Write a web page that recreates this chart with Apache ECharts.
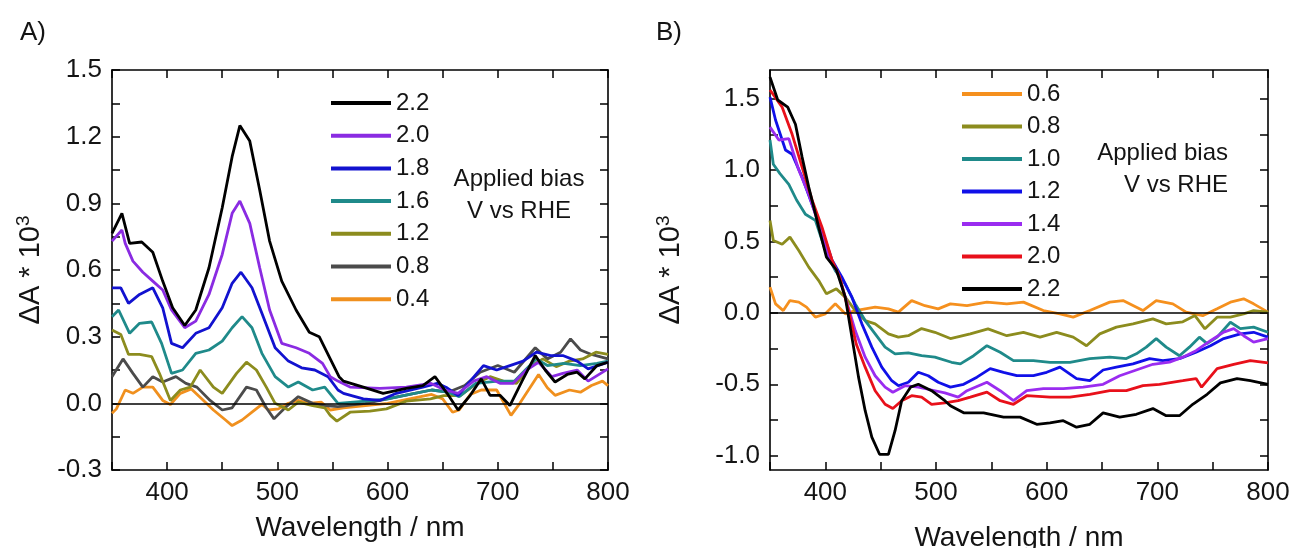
<!DOCTYPE html>
<html><head><meta charset="utf-8">
<script src="https://cdn.jsdelivr.net/npm/echarts@6/dist/echarts.min.js"></script>
<style>html,body{margin:0;padding:0;background:#fff}#c{width:1295px;height:548px}</style>
</head><body><div id="c"></div>
<script>
// ---------- Panel A data (wavelength nm, ΔA*10^3) ----------
const waveA22 = [350,359,366,377,387,396,405,416,426,438,450,459,466,475,484,493,504,517,529,538,548,556,560,578,596,617,632,643,654,664,675,685,693,702,711,722,734,743,752,763,772,779,790,800];
const valA22  = [.765,.855,.72,.726,.68,.55,.43,.35,.42,.61,.88,1.11,1.25,1.18,.96,.73,.55,.42,.32,.30,.20,.12,.10,.073,.045,.067,.08,.12,.045,-.03,.036,.11,.036,.036,-.01,.10,.215,.15,.096,.13,.14,.11,.17,.185];
const waveA20 = [350,359,362,369,378,387,396,404,416,426,438,450,459,466,475,484,493,504,517,529,541,548,555,566,593,617,639,652,664,678,690,702,714,726,737,749,759,772,782,800];
const valA20  = [.73,.78,.72,.64,.59,.55,.51,.42,.34,.37,.49,.67,.855,.91,.81,.61,.42,.27,.25,.225,.18,.12,.10,.073,.067,.073,.09,.06,.045,.10,.12,.09,.09,.15,.185,.12,.135,.15,.10,.155];
const waveA18 = [350,358,365,375,387,396,404,414,426,438,450,459,467,477,486,498,510,522,534,546,555,560,578,593,608,632,645,654,664,675,687,699,711,723,735,748,759,772,782,800];
const valA18  = [.52,.52,.45,.49,.52,.43,.27,.25,.315,.34,.43,.54,.59,.52,.405,.25,.19,.16,.15,.12,.06,.045,.02,.013,.045,.073,.09,.07,.035,.10,.17,.15,.17,.19,.23,.215,.215,.19,.155,.185];
const waveA16 = [350,356,366,375,386,395,404,414,426,438,450,459,468,477,486,498,510,519,532,543,555,580,600,620,640,655,665,680,700,715,725,735,745,760,775,790,800];
const valA16  = [.39,.42,.315,.36,.366,.27,.135,.15,.225,.24,.28,.34,.39,.34,.225,.12,.073,.096,.06,.073,0,.01,.02,.04,.06,.05,.03,.09,.10,.10,.15,.20,.17,.18,.17,.18,.19];
const waveA12 = [350,358,365,375,386,393,403,412,421,430,442,450,463,472,481,490,498,510,519,532,543,548,554,566,584,599,617,639,651,666,681,693,705,717,729,741,753,765,777,789,800];
const valA12  = [.33,.31,.22,.22,.21,.135,.013,.06,.073,.15,.073,.045,.135,.185,.15,.073,0,-.03,.005,-.01,-.02,-.054,-.08,-.04,-.035,-.025,.01,.02,.035,.035,.09,.12,.10,.09,.165,.20,.165,.19,.20,.23,.22];
const waveA08 = [350,360,369,378,387,396,408,417,427,439,450,459,472,481,490,497,507,519,532,543,555,580,600,620,640,655,670,684,700,715,734,745,757,766,775,785,800];
const valA08  = [.12,.20,.135,.073,.12,.096,.12,.09,.073,.013,-.03,-.02,.073,.06,-.02,-.07,-.02,.03,0,-.01,-.015,0,.02,.04,.06,.05,.08,.14,.17,.14,.25,.20,.23,.29,.24,.22,.20];
const waveA04 = [350,354,362,369,378,387,396,403,412,422,433,442,453,459,468,477,486,492,501,510,519,528,540,548,560,580,600,620,640,650,659,665,675,685,699,712,720,737,745,752,765,775,785,795,800];
const valA04  = [-.045,-.025,.06,.045,.073,.073,.013,-.005,.045,.065,.013,-.03,-.075,-.10,-.075,-.04,-.005,-.03,-.025,0,.013,0,.005,-.03,-.02,-.01,0,.02,.04,.02,-.04,-.03,.04,.06,.06,-.054,0,.13,.07,.036,.06,.05,.08,.10,.08];

// ---------- Panel B data ----------
const waveB22 = [350,357,366,373,379,385,394,401,410,418,424,430,436,442,449,457,463,469,477,484,496,508,513,525,543,561,576,591,603,615,627,639,651,666,681,696,708,720,732,745,757,772,784,800];
const valB22  = [1.65,1.49,1.44,1.32,1.09,.88,.60,.39,.30,.11,-.17,-.45,-.685,-.87,-.99,-.99,-.825,-.615,-.52,-.50,-.545,-.615,-.65,-.70,-.70,-.73,-.73,-.78,-.77,-.755,-.80,-.78,-.70,-.73,-.71,-.67,-.72,-.72,-.64,-.57,-.49,-.46,-.475,-.50];
const waveB20 = [350,361,370,379,388,397,406,413,421,428,436,445,454,461,469,478,487,496,508,520,531,546,558,570,582,603,621,639,657,672,687,702,723,735,740,754,769,784,800];
const valB20  = [1.56,1.44,1.25,1.02,.79,.60,.37,.25,.016,-.22,-.38,-.545,-.64,-.67,-.615,-.58,-.59,-.64,-.63,-.615,-.59,-.555,-.615,-.64,-.58,-.59,-.59,-.57,-.545,-.545,-.51,-.50,-.475,-.46,-.52,-.39,-.36,-.335,-.35];
const waveB14 = [350,358,367,376,385,394,403,412,419,427,436,445,454,461,472,484,496,508,520,528,546,558,570,582,597,615,633,651,666,681,696,711,723,735,748,760,769,778,787,800];
const valB14  = [1.30,1.21,1.22,1.0,.83,.62,.39,.27,.086,-.124,-.31,-.44,-.52,-.556,-.51,-.52,-.54,-.56,-.59,-.545,-.486,-.545,-.615,-.545,-.53,-.53,-.52,-.50,-.44,-.40,-.36,-.345,-.31,-.265,-.195,-.135,-.11,-.16,-.205,-.18];
const waveB12 = [350,355,364,370,379,388,397,406,415,424,433,442,451,460,466,475,484,493,502,513,525,537,549,561,573,588,600,612,627,639,651,663,678,693,705,720,735,748,760,775,787,800];
const valB12  = [1.51,1.35,1.14,1.11,.95,.76,.577,.37,.25,.11,-.077,-.24,-.38,-.475,-.51,-.486,-.416,-.44,-.486,-.52,-.50,-.45,-.39,-.416,-.44,-.44,-.416,-.38,-.46,-.475,-.40,-.38,-.357,-.32,-.334,-.32,-.276,-.23,-.18,-.147,-.136,-.17];
const waveB10 = [350,353,359,367,374,382,391,400,409,418,427,436,445,454,463,475,487,499,514,522,534,546,558,570,588,603,621,639,657,672,681,690,699,708,720,729,738,745,754,766,775,787,800];
const valB10  = [1.21,1.04,.975,.90,.79,.69,.647,.437,.296,.20,.063,-.054,-.147,-.24,-.287,-.28,-.30,-.31,-.346,-.357,-.30,-.23,-.276,-.334,-.334,-.346,-.346,-.32,-.31,-.32,-.287,-.24,-.18,-.24,-.30,-.24,-.17,-.215,-.17,-.066,-.11,-.10,-.136];
const waveB08 = [350,353,361,368,376,385,394,401,410,418,427,436,445,457,466,475,487,499,513,531,547,564,579,594,609,624,636,648,663,678,696,708,723,734,743,754,766,778,787,800];
const valB08  = [.647,.507,.48,.53,.437,.32,.226,.133,.168,.11,.016,-.054,-.077,-.147,-.17,-.16,-.11,-.136,-.18,-.147,-.112,-.16,-.136,-.17,-.136,-.17,-.23,-.147,-.10,-.077,-.042,-.077,-.063,-.019,-.112,-.03,-.03,-.007,.016,.005];
const waveB06 = [350,355,362,368,376,383,391,400,409,418,427,436,445,457,466,478,490,502,513,528,546,564,579,597,612,624,639,657,669,687,699,714,726,741,754,766,778,787,800];
const valB06  = [.18,.063,.016,.086,.075,.04,-.03,-.007,.063,-.007,.016,.028,.04,.028,.005,.086,.05,.028,.063,.05,.075,.063,.075,.016,-.007,-.03,.016,.075,.086,.016,.086,.063,.005,-.02,.028,.075,.098,.063,.005];

// ---------- labels / ticks ----------
const legendA = ['2.2','2.0','1.8','1.6','1.2','0.8','0.4'];
const legendB = ['0.6','0.8','1.0','1.2','1.4','2.0','2.2'];
const xTicks = [350,400,450,500,550,600,650,700,750,800];
const xLabels = [400,500,600,700,800];
const yTicksA = [-0.3,-0.15,0,0.15,0.3,0.45,0.6,0.75,0.9,1.05,1.2,1.35,1.5];
const yLabelsA = [-0.3,0,0.3,0.6,0.9,1.2,1.5];
const yTicksB = [-1,-0.75,-0.5,-0.25,0,0.25,0.5,0.75,1,1.25,1.5];
const yLabelsB = [-1,-0.5,0,0.5,1,1.5];

const FONT = '"Liberation Sans", Arial, Helvetica, sans-serif';
const TXT = '#141414';
function zip(x, y) { return x.map((v, i) => [v, y[i]]); }

const lineAx = {show: true, onZero: false, lineStyle: {color: '#000', width: 1.6}};
function xAx(grid, pos, showLbl, nameGap) {
  return {
    type: 'value', gridIndex: grid, position: pos, min: 350, max: 800,
    axisLine: lineAx,
    axisTick: {show: true, inside: true, length: 8, customValues: xTicks, lineStyle: {color: '#000', width: 1.5}},
    axisLabel: {show: showLbl, customValues: xLabels, fontSize: 26, fontFamily: FONT, color: TXT, margin: 10},
    splitLine: {show: false},
    name: showLbl ? 'Wavelength / nm' : '', nameLocation: 'middle', nameGap: nameGap,
    nameTextStyle: {fontSize: 28, fontFamily: FONT, color: TXT}
  };
}
function yAx(grid, pos, showLbl, min, max, ticks, labels, nameGap) {
  return {
    type: 'value', gridIndex: grid, position: pos, min: min, max: max,
    axisLine: lineAx,
    axisTick: {show: true, inside: true, length: 8, customValues: ticks, lineStyle: {color: '#000', width: 1.5}},
    axisLabel: {show: showLbl, customValues: labels, fontSize: 26, fontFamily: FONT, color: TXT, margin: 10,
      formatter: v => Number(v).toFixed(1)},
    splitLine: {show: false},
    name: showLbl ? '{m|ΔA * 10}{s|3}' : '', nameLocation: 'middle', nameRotate: 90, nameGap: nameGap,
    nameTextStyle: {color: TXT, rich: {
      m: {fontSize: 29, fontFamily: FONT, color: TXT, lineHeight: 34},
      s: {fontSize: 19, fontFamily: FONT, color: TXT, verticalAlign: 'top', lineHeight: 34}
    }}
  };
}

const zeroLine = {silent: true, symbol: ['none', 'none'], label: {show: false}, animation: false,
  lineStyle: {color: '#000', width: 1.5, type: 'solid'}, data: [{yAxis: 0}]};

function mk(name, panel, x, y, color, withZero) {
  const s = {
    name: name, type: 'line', xAxisIndex: panel === 'A' ? 0 : 2, yAxisIndex: panel === 'A' ? 0 : 2,
    data: zip(x, y), symbol: 'none', showSymbol: false, smooth: false,
    lineStyle: {width: 2.8, color: color}, itemStyle: {color: color}
  };
  if (withZero) s.markLine = zeroLine;
  return s;
}

const series = [
  mk('A|0.4', 'A', waveA04, valA04, '#f0901e', true),
  mk('A|0.8', 'A', waveA08, valA08, '#4b4b4b'),
  mk('A|1.2', 'A', waveA12, valA12, '#8c8c1e'),
  mk('A|1.6', 'A', waveA16, valA16, '#1f8a8a'),
  mk('A|1.8', 'A', waveA18, valA18, '#1212cf'),
  mk('A|2.0', 'A', waveA20, valA20, '#8a2be2'),
  mk('A|2.2', 'A', waveA22, valA22, '#000000'),
  mk('B|0.6', 'B', waveB06, valB06, '#f5901e', true),
  mk('B|0.8', 'B', waveB08, valB08, '#8c8c1e'),
  mk('B|1.0', 'B', waveB10, valB10, '#1f8a8a'),
  mk('B|1.2', 'B', waveB12, valB12, '#1010e8'),
  mk('B|1.4', 'B', waveB14, valB14, '#9a2cf0'),
  mk('B|2.0', 'B', waveB20, valB20, '#e8101a'),
  mk('B|2.2', 'B', waveB22, valB22, '#000000')
];

function legendCfg(panel, names, left, top, gap) {
  return {
    data: names.map(n => ({name: panel + '|' + n, icon: 'rect'})), orient: 'vertical', left: left, top: top,
    itemWidth: 60, itemHeight: 4, itemGap: gap, selectedMode: false,
    formatter: n => n.split('|')[1],
    textStyle: {fontSize: 24, fontFamily: FONT, color: TXT, lineHeight: 22}
  };
}

const chart = echarts.init(document.getElementById('c'));
chart.setOption({
  animation: false,
  backgroundColor: '#fff',
  grid: [
    {left: 112, top: 70, width: 496, height: 400, outerBoundsMode: 'none', containLabel: false},
    {left: 770, top: 70, width: 498, height: 400, outerBoundsMode: 'none', containLabel: false}
  ],
  xAxis: [xAx(0, 'bottom', true, 44), xAx(0, 'top', false, 0), xAx(1, 'bottom', true, 54), xAx(1, 'top', false, 0)],
  yAxis: [
    yAx(0, 'left', true, -0.3, 1.5, yTicksA, yLabelsA, 64), yAx(0, 'right', false, -0.3, 1.5, yTicksA, yLabelsA, 0),
    yAx(1, 'left', true, -1.1, 1.7, yTicksB, yLabelsB, 82), yAx(1, 'right', false, -1.1, 1.7, yTicksB, yLabelsB, 0)
  ],
  legend: [legendCfg('A', legendA, 326, 86, 8.7), legendCfg('B', legendB, 957, 77, 8.5)],
  graphic: [
    {type: 'text', left: 20, top: 20, style: {text: 'A)', font: '26px ' + FONT, fill: TXT}},
    {type: 'text', left: 656, top: 20, style: {text: 'B)', font: '26px ' + FONT, fill: TXT}},
    {type: 'text', x: 519, y: 163, style: {text: 'Applied bias\nV vs RHE', font: '24px ' + FONT, fill: TXT, align: 'center', lineHeight: 32}},
    {type: 'text', x: 1228, y: 137, style: {text: 'Applied bias\nV vs RHE', font: '24px ' + FONT, fill: TXT, align: 'right', lineHeight: 32}}
  ],
  series: series
});
</script>
</body></html>
